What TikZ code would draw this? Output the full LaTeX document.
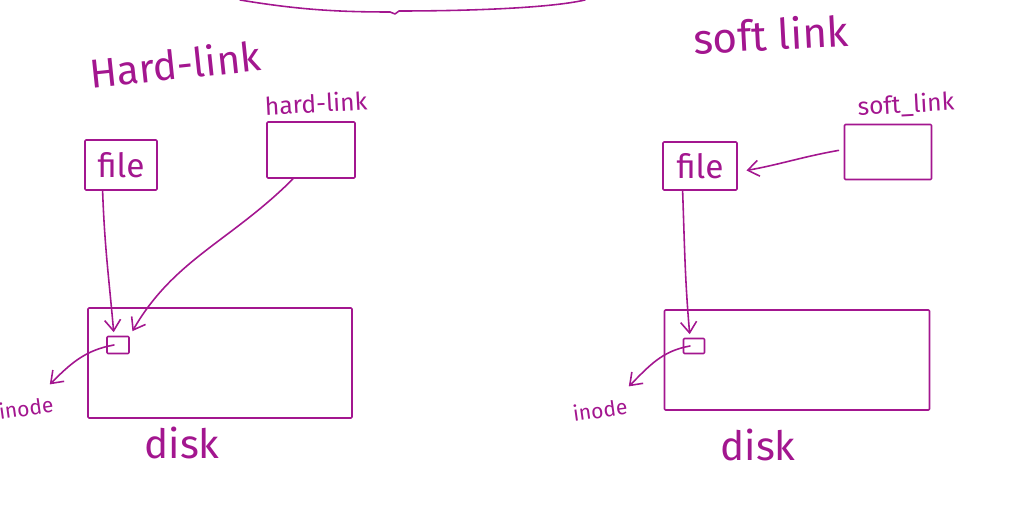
\documentclass[tikz,border=0pt]{standalone}
\usepackage{fontspec}
\setmainfont{Fira Sans}
\usepackage{tikz}
\usetikzlibrary{arrows.meta,calc}
\definecolor{inkpurple}{HTML}{A3168F}

\begin{document}
\begin{tikzpicture}[
  x=0.02cm, y=-0.02cm,
  ink/.style={draw=inkpurple, line width=0.9pt, line cap=round, line join=round},
  txt/.style={text=inkpurple, inner sep=0pt},
  title/.style={txt, font=\fontsize{23}{23}\selectfont},
  label/.style={txt, font=\fontsize{14}{14}\selectfont},
  small/.style={txt, font=\fontsize{12}{12}\selectfont},
  box/.style={ink, inner sep=0pt, rounded corners=0.5pt},
  arr/.style={ink, -{Straight Barb[length=2.2mm,width=3.2mm]}},
]
\useasboundingbox (0,0) rectangle (1010,516);

% brace across the top
\draw[ink] (240,0) .. controls (300,10) and (340,12) .. (390,12) -- (395,14) -- (399,11)
  .. controls (470,11) and (550,8) .. (585,0);

% hard link side
\node[title, rotate=6] (hardtitle) at (175,64) {Hard-link};
\node[label, rotate=3] (hardlbl) at (316,103) {hard-link};
\node[box, minimum width=1.76cm, minimum height=1.12cm] (hlink) at (311,150) {};
\node[box, minimum width=1.44cm, minimum height=1.0cm, font=\fontsize{19}{19}\selectfont, text=inkpurple] (fileL) at (121,165) {file};
\node[box, minimum width=5.28cm, minimum height=2.2cm] (diskL) at (220,363) {};
\node[box, minimum width=0.44cm, minimum height=0.34cm] (inodeL) at (118,345) {};
\node[title] (disklblL) at (182,443) {disk};
\node[small, rotate=8] (inodelblL) at (26,408) {inode};

\draw[arr, shorten >=2pt] ($(fileL.south west)!0.25!(fileL.south east)$)
  to[out=-88, in=95] ([xshift=-0.08cm]inodeL.north);
\draw[arr, shorten >=3pt] ($(hlink.south west)!0.3!(hlink.south east)$)
  to[out=-135, in=60] (inodeL.north east);
\draw[arr] ([xshift=-0.08cm]inodeL.center) to[out=190, in=45] ([xshift=0.5cm,yshift=0.3cm]inodelblL.north);

% soft link side
\node[txt, font=\fontsize{24}{24}\selectfont, rotate=3] (softtitle) at (771,34) {soft link};
\node[label, rotate=3] (softlbl) at (906,105) {soft\_link};
\node[box, minimum width=1.74cm, minimum height=1.1cm] (slink) at (888,152) {};
\node[box, minimum width=1.48cm, minimum height=0.96cm, font=\fontsize{19}{19}\selectfont, text=inkpurple] (fileR) at (700,166) {file};
\node[box, minimum width=5.3cm, minimum height=2.0cm] (diskR) at (797,360) {};
\node[box, minimum width=0.42cm, minimum height=0.3cm] (inodeR) at (694,346) {};
\node[title] (disklblR) at (758,445) {disk};
\node[small, rotate=8] (inodelblR) at (600,410) {inode};

\draw[arr, shorten <=3pt, shorten >=5pt] ([yshift=0.05cm]slink.west)
  to[out=190, in=10] ([yshift=-0.12cm]fileR.east);
\draw[arr, shorten >=2pt] ($(fileR.south west)!0.27!(fileR.south east)$)
  to[out=-88, in=95] ([xshift=-0.08cm]inodeR.north);
\draw[arr] ([xshift=-0.08cm]inodeR.center) to[out=190, in=45] ([xshift=0.6cm,yshift=0.3cm]inodelblR.north);
\end{tikzpicture}
\end{document}
